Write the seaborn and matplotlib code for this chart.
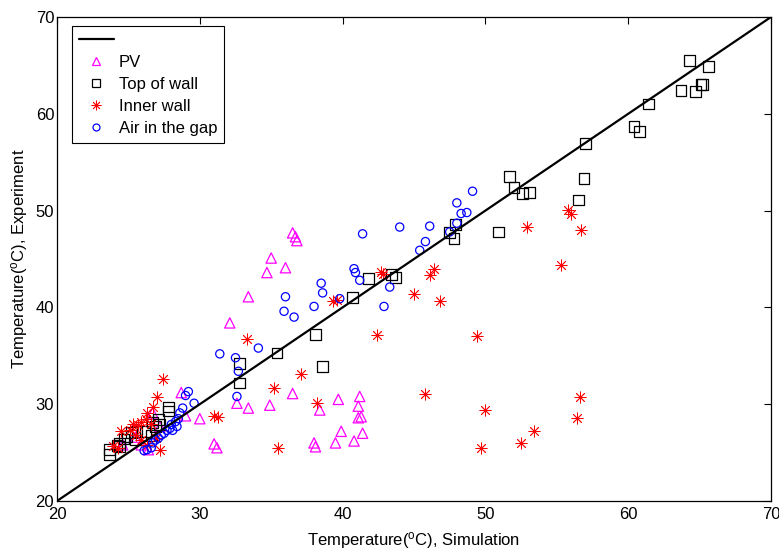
import matplotlib
matplotlib.use("Agg")
import matplotlib.pyplot as plt
import seaborn as sns
import pandas as pd
from matplotlib.lines import Line2D

# ---------------- data ----------------
pv_x = [32.1, 33.4, 34.7, 35.0, 36.0, 36.5, 36.7, 36.8,
        30.0, 29.0, 32.6, 33.4, 34.9, 36.5, 38.4, 39.7, 41.2, 41.1, 41.1, 41.3,
        39.9, 41.4, 39.5, 40.8, 38.0, 38.1, 31.0, 31.2, 28.7, 26.7, 25.5, 25.9,
        24.6, 26.4, 27.2]
pv_y = [38.4, 41.1, 43.6, 45.1, 44.1, 47.7, 47.3, 46.9,
        28.5, 28.8, 30.1, 29.6, 29.9, 31.1, 29.4, 30.5, 30.8, 29.8, 28.6, 28.7,
        27.2, 27.0, 26.0, 26.2, 26.0, 25.6, 25.9, 25.5, 31.2, 29.1, 26.6, 25.8,
        25.8, 25.3, 27.7]

top_x = [23.7, 23.7, 24.4, 24.2, 24.4, 24.7, 24.9, 25.2, 25.5, 25.6, 26.2, 26.6,
         26.7, 26.9, 27.1, 27.2, 27.8, 27.8,
         32.8, 32.8, 35.4, 38.1, 38.6, 40.7, 41.8, 43.4, 43.7, 47.5, 47.8, 47.9,
         50.9, 51.7, 52.0, 52.6, 53.1, 56.5, 56.9, 57.0, 60.4, 60.8, 61.4, 63.7,
         64.3, 64.7, 65.1, 65.2, 65.6]
top_y = [25.3, 24.8, 25.6, 25.7, 26.0, 26.4, 26.7, 27.1, 26.3, 27.2, 27.2, 26.8,
         28.1, 27.7, 28.4, 27.9, 29.7, 29.3,
         34.2, 32.2, 35.3, 37.2, 33.9, 41.0, 43.0, 43.4, 43.1, 47.7, 47.1, 48.6,
         47.8, 53.5, 52.4, 51.8, 51.9, 51.1, 53.3, 56.9, 58.7, 58.2, 61.0, 62.4,
         65.5, 62.3, 63.0, 63.0, 64.9]

inner_x = [27.4, 27.0, 26.7, 26.3, 26.2, 25.3, 25.7, 25.9, 24.5, 25.1, 25.5, 23.9,
           24.3, 26.3, 27.2, 26.9, 26.6, 25.9,
           31.0, 31.3, 33.3, 35.2, 35.5, 37.1, 38.2, 39.3, 39.6, 42.4, 42.7, 42.8,
           45.0, 45.8, 46.1, 46.4, 46.8, 49.4, 49.7, 50.0, 52.5, 52.9, 53.4, 55.3,
           55.8, 56.0, 56.4, 56.6, 56.7]
inner_y = [32.6, 30.7, 29.7, 29.1, 28.5, 28.0, 27.9, 28.2, 27.2, 27.3, 26.8, 25.7,
           25.5, 25.8, 25.3, 26.5, 28.0, 26.3,
           28.8, 28.7, 36.7, 31.7, 25.5, 33.1, 30.1, 40.7, 40.8, 37.1, 43.7, 43.5,
           41.4, 31.1, 43.3, 44.0, 40.7, 37.0, 25.5, 29.4, 26.0, 48.3, 27.2, 44.4,
           50.1, 49.7, 28.6, 30.7, 48.0]

air_x = [26.1, 26.3, 26.6, 26.7, 26.9, 27.1, 27.3, 27.5, 27.7, 27.9, 28.0, 28.1,
         28.3, 28.4, 28.5, 28.6, 28.8, 29.0, 29.2, 29.6,
         31.4, 32.5, 32.7, 32.6, 34.1, 35.9, 36.0, 36.6, 38.0, 38.5, 38.6, 39.8,
         40.8, 40.9, 41.2, 41.4, 42.9, 43.3, 44.0, 45.4, 45.8, 46.1, 47.5, 48.0,
         48.3, 48.7, 48.0, 49.1]
air_y = [25.2, 25.3, 25.5, 26.0, 26.3, 26.5, 26.8, 27.0, 27.3, 27.5, 27.9, 27.3,
         28.2, 27.7, 28.5, 29.1, 29.6, 30.9, 31.3, 30.1,
         35.2, 34.8, 33.4, 30.8, 35.8, 39.6, 41.1, 39.0, 40.1, 42.5, 41.5, 40.9,
         44.0, 43.6, 42.8, 47.6, 40.1, 42.1, 48.3, 45.9, 46.8, 48.4, 47.8, 48.7,
         49.7, 49.8, 50.8, 52.0]

line_x = [20, 70]
line_y = [20, 70]

x_ticks = [20, 30, 40, 50, 60, 70]
y_ticks = [20, 30, 40, 50, 60, 70]
labels = ["PV", "Top of wall", "Inner wall", "Air in the gap"]

# ---------------- style ----------------
sns.set_style("white")
plt.rcParams['font.family'] = ['Liberation Sans', 'DejaVu Sans']
plt.rcParams['mathtext.fontset'] = 'custom'
plt.rcParams['mathtext.rm'] = 'Liberation Sans'
plt.rcParams['mathtext.it'] = 'Liberation Sans'
plt.rcParams['text.color'] = 'black'
plt.rcParams['axes.labelcolor'] = 'black'

fig = plt.figure(figsize=(7.79, 5.51), dpi=100)
ax = fig.add_axes([57/779, 50/551, 714/779, 484/551])

sns.lineplot(x=line_x, y=line_y, ax=ax, color='black', linewidth=1.6)

sns.scatterplot(x=pv_x, y=pv_y, ax=ax, marker='^', s=55, facecolors='none',
                edgecolor='#ff00ff', linewidth=0.9)
sns.scatterplot(x=top_x, y=top_y, ax=ax, marker='s', s=60, facecolors='none',
                edgecolor='black', linewidth=0.9)
sns.scatterplot(x=inner_x, y=inner_y, ax=ax, marker=(8, 2, 0), s=65,
                color='red', edgecolor='red', linewidth=0.6)
sns.scatterplot(x=air_x, y=air_y, ax=ax, marker='o', s=35, facecolors='none',
                edgecolor='blue', linewidth=0.9)

ax.set_xlim(20, 70)
ax.set_ylim(20, 70)
ax.set_xticks(x_ticks)
ax.set_yticks(y_ticks)
ax.tick_params(direction='in', top=True, right=True, length=5, width=0.8,
               labelsize=12, colors='black', pad=2)
ax.tick_params(axis='x', pad=4)
for sp in ax.spines.values():
    sp.set_color('black')
    sp.set_linewidth(0.9)

ax.set_xlabel(r'Temperature($^{\mathrm{o}}$C), Simulation', fontsize=12, labelpad=6)
ax.set_ylabel(r'Temperature($^{\mathrm{o}}$C), Experiment', fontsize=12, labelpad=4)

handles = [
    Line2D([], [], color='black', linewidth=1.6),
    Line2D([], [], marker='^', linestyle='none', markerfacecolor='none',
           markeredgecolor='#ff00ff', markersize=6, markeredgewidth=0.9),
    Line2D([], [], marker='s', linestyle='none', markerfacecolor='none',
           markeredgecolor='black', markersize=6, markeredgewidth=0.9),
    Line2D([], [], marker=(8, 2, 0), linestyle='none', color='red',
           markersize=7, markeredgewidth=0.6),
    Line2D([], [], marker='o', linestyle='none', markerfacecolor='none',
           markeredgecolor='blue', markersize=5, markeredgewidth=0.9),
]
leg = ax.legend(handles, [' '] + labels, loc='upper left',
                bbox_to_anchor=(0.021, 0.981), fontsize=12, frameon=True,
                fancybox=False, framealpha=1, edgecolor='black',
                handlelength=2.1, handletextpad=0.3, labelspacing=0.42,
                borderpad=0.4, borderaxespad=0)
leg.get_frame().set_linewidth(0.8)

fig.savefig('out.png', dpi=100)
